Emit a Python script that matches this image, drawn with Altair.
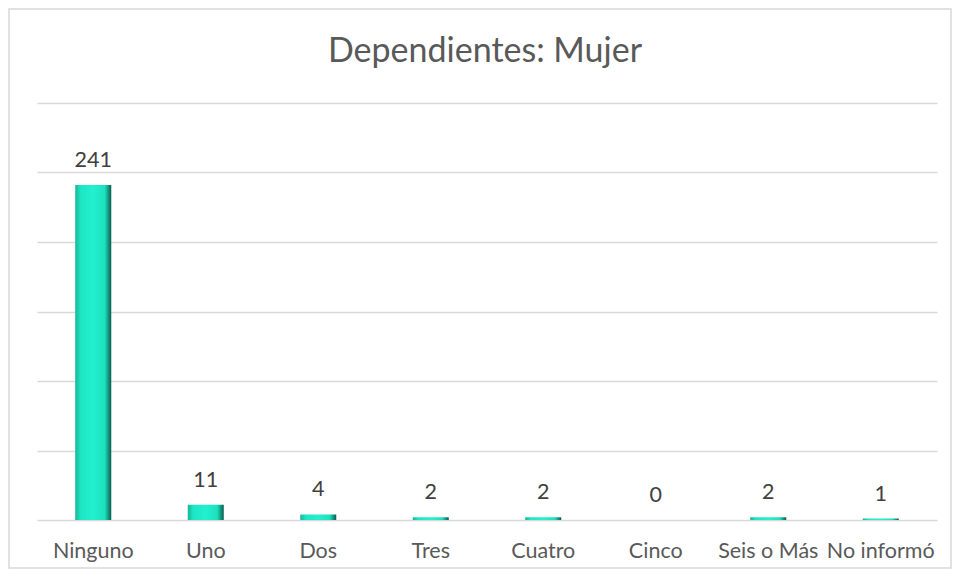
import altair as alt
import pandas as pd

categories = ["Ninguno", "Uno", "Dos", "Tres", "Cuatro", "Cinco", "Seis o Más", "No informó"]
values = [241, 11, 4, 2, 2, 0, 2, 1]
title_text = "Dependientes: Mujer"

df = pd.DataFrame({"cat": categories, "val": values})

W, H = 900, 417
PL, PT, PR, PB = 29, 95, 15, 49

grad = alt.Gradient(
    gradient="linear",
    stops=[
        alt.GradientStop(color="#14b597", offset=0),
        alt.GradientStop(color="#1de6c4", offset=0.15),
        alt.GradientStop(color="#22f0cf", offset=0.5),
        alt.GradientStop(color="#1de0bd", offset=0.82),
        alt.GradientStop(color="#0b5c4e", offset=1),
    ],
    x1=0, x2=1, y1=0, y2=0,
)

xenc = alt.X("cat:N", sort=categories,
             scale=alt.Scale(paddingInner=0.68, paddingOuter=0.34),
             axis=alt.Axis(title=None, labelAngle=0, ticks=False, domain=False,
                           labelFont="Lato", labelFontSize=21.5, labelColor="#595959",
                           labelPadding=20, grid=False))
yenc = alt.Y("val:Q", scale=alt.Scale(domain=[0, 300], nice=False),
             axis=alt.Axis(title=None, labels=False, ticks=False, domain=False,
                           values=[0, 50, 100, 150, 200, 250, 300],
                           gridColor="#d9d9d9", gridWidth=1.3))

bars = alt.Chart(df).mark_bar(color=grad).encode(x=xenc, y=yenc)

labels = alt.Chart(df).mark_text(baseline="bottom", dy=-13, font="Lato", fontSize=21.5,
                                 color="#404040").encode(
    x=alt.X("cat:N", sort=categories), y="val:Q", text="val:Q")

border = alt.Chart(pd.DataFrame({"a": [0]})).mark_rect(
    fill=None, stroke="#d9d9d9", strokeWidth=1.5).encode(
    x=alt.value(-PL + 1), x2=alt.value(W + PR - 1),
    y=alt.value(-PT + 1), y2=alt.value(H + PB - 1))

title = alt.Chart(pd.DataFrame({"t": [title_text]})).mark_text(
    font="Lato", fontSize=34, color="#595959", align="center", baseline="alphabetic").encode(
    x=alt.value(W / 2 - 2), y=alt.value(-41), text="t:N")

chart = alt.layer(border, bars, labels, title).properties(
    width=W, height=H,
    autosize=alt.AutoSizeParams(type="none"),
    padding={"left": PL, "top": PT, "right": PR, "bottom": PB},
    view=alt.ViewBackground(stroke="transparent", strokeWidth=0),
).configure_view(stroke="transparent", strokeWidth=0).configure(background="white")

chart.save("out.html", embed_options={"renderer": "svg", "actions": False})
